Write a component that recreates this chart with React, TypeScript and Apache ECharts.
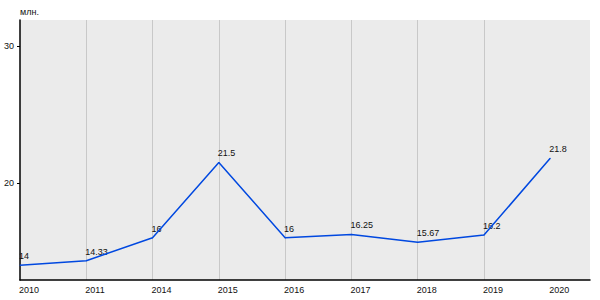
import React, { useEffect, useRef } from "react";
import * as echarts from "echarts";

const years = ["2010", "2011", "2014", "2015", "2016", "2017", "2018", "2019", "2020"];
const values = [14, 14.33, 16, 21.5, 16, 16.25, 15.67, 16.2, 21.8];
const valueLabels = ["14", "14.33", "16", "21.5", "16", "16.25", "15.67", "16.2", "21.8"];
const yTicks = [20, 30];
const unitLabel = "млн.";

export default function App() {
  const ref = useRef<HTMLDivElement>(null);
  useEffect(() => {
    document.body.style.margin = "0";
    const chart = echarts.init(ref.current!, null, { renderer: "svg" });
    const font = "Liberation Sans";
    const xIdx = years.map((_, i) => i);
    chart.setOption({
      animation: false,
      backgroundColor: "#ffffff",
      grid: { left: 20, right: 10, top: 20, bottom: 20, show: true, backgroundColor: "#EBEBEB", borderWidth: 0 },
      graphic: [
        { type: "text", left: 20, top: 7, style: { text: unitLabel, fontSize: 9, fontFamily: font, fill: "#111" } },
      ],
      xAxis: {
        type: "value",
        min: 0,
        max: 8.6,
        axisLine: { show: true, onZero: false, lineStyle: { color: "#000", width: 1.5 } },
        axisTick: { show: false, customValues: xIdx },
        axisLabel: {
          customValues: xIdx,
          formatter: (v: number) => (Number.isInteger(v) && years[v] ? years[v] : ""),
          align: "left",
          margin: 5,
          padding: [0, 0, 0, -1],
          color: "#111",
          fontSize: 9,
          fontFamily: font,
        },
        splitLine: { show: true, showMinLine: false, showMaxLine: false, lineStyle: { color: "#C8C8C8", width: 1 } },
      },
      yAxis: {
        type: "value",
        min: 12.92,
        max: 31.9,
        axisLine: { show: true, lineStyle: { color: "#000", width: 1.5 } },
        axisTick: { show: true, length: 3, customValues: yTicks, lineStyle: { color: "#000" } },
        axisLabel: {
          customValues: yTicks,
          formatter: (v: number) => (yTicks.includes(v) ? String(v) : ""),
          margin: 6,
          padding: [0, 0, 6, 0],
          color: "#111",
          fontSize: 9,
          fontFamily: font,
        },
        splitLine: { show: true, showMinLine: false, showMaxLine: false, lineStyle: { color: "#C8C8C8", width: 1 } },
      },
      series: [
        {
          type: "line",
          data: values.map((v, i) => [i, v]),
          lineStyle: { color: "#0048E0", width: 1.5 },
          symbol: "none",
        },
        {
          type: "scatter",
          data: values.map((v, i) => [i, v]),
          symbol: "circle",
          symbolSize: 1,
          itemStyle: { color: "#0048E0" },
          label: {
            show: true,
            position: "top",
            align: "left",
            distance: 4,
            offset: [-1, 0],
            formatter: (p: any) => valueLabels[p.dataIndex],
            color: "#111",
            opacity: 1,
            textBorderWidth: 0,
            fontSize: 9,
            fontFamily: font,
          },
        },
      ],
    });
    return () => chart.dispose();
  }, []);
  return <div ref={ref} style={{ width: 600, height: 300 }} />;
}
